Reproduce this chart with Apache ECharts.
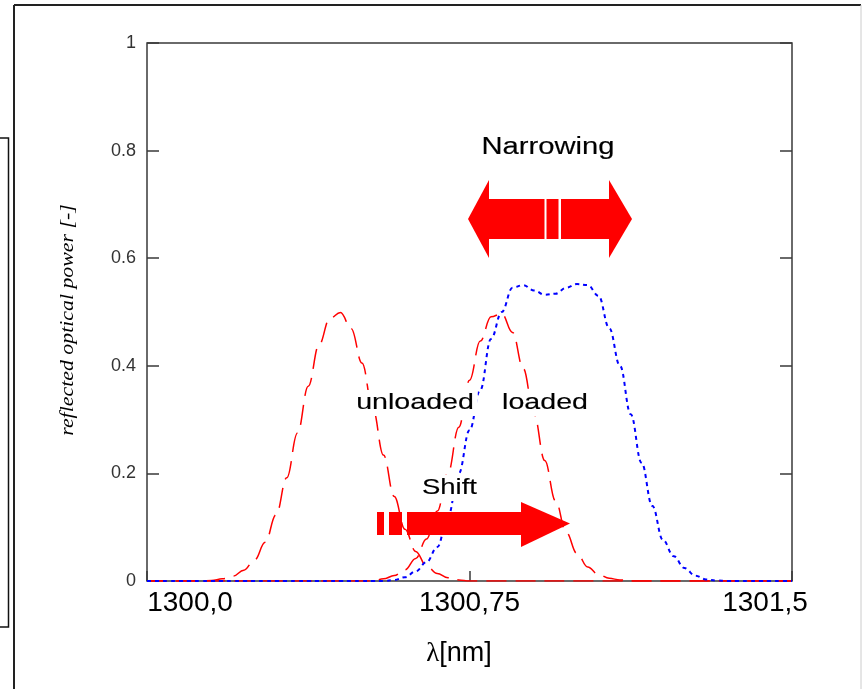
<!DOCTYPE html>
<html>
<head>
<meta charset="utf-8">
<script src="https://cdn.jsdelivr.net/npm/echarts@6/dist/echarts.min.js"></script>
<style>
  html, body { margin: 0; padding: 0; background: #fff; }
  #chart { width: 862px; height: 689px; }
</style>
</head>
<body>
<div id="chart"></div>
<script>
// wavelength grid [nm], every 0.025 nm
const wavelength = [
  1300.000, 1300.025, 1300.050, 1300.075, 1300.100, 1300.125, 1300.150, 1300.175, 1300.200, 1300.225,
  1300.250, 1300.275, 1300.300, 1300.325, 1300.350, 1300.375, 1300.400, 1300.425, 1300.450, 1300.475,
  1300.500, 1300.525, 1300.550, 1300.575, 1300.600, 1300.625, 1300.650, 1300.675, 1300.700, 1300.725,
  1300.750, 1300.775, 1300.800, 1300.825, 1300.850, 1300.875, 1300.900, 1300.925, 1300.950, 1300.975,
  1301.000, 1301.025, 1301.050, 1301.075, 1301.100, 1301.125, 1301.150, 1301.175, 1301.200, 1301.225,
  1301.250, 1301.275, 1301.300, 1301.325, 1301.350, 1301.375, 1301.400, 1301.425, 1301.450, 1301.475,
  1301.500
];

// red dashed, unloaded grating
const unloaded = [
  0, 0, 0, 0, 0, 0, 0.001, 0.004, 0.009, 0.020,
  0.039, 0.072, 0.123, 0.192, 0.275, 0.362, 0.439, 0.488, 0.499, 0.469,
  0.405, 0.321, 0.234, 0.157, 0.096, 0.055, 0.028, 0.014, 0.006, 0.002,
  0, 0, 0, 0, 0, 0, 0, 0, 0, 0,
  0, 0, 0, 0, 0, 0, 0, 0, 0, 0,
  0, 0, 0, 0, 0, 0, 0, 0, 0, 0,
  0
];

// red dashed, shifted peak
const shifted = [
  0, 0, 0, 0, 0, 0, 0, 0, 0, 0,
  0, 0, 0, 0, 0, 0, 0, 0, 0, 0,
  0, 0, 0.004, 0.010, 0.021, 0.042, 0.078, 0.130, 0.201, 0.286,
  0.373, 0.446, 0.491, 0.497, 0.462, 0.395, 0.310, 0.224, 0.149, 0.090,
  0.051, 0.026, 0.012, 0.005, 0.002, 0, 0, 0, 0, 0,
  0, 0, 0, 0, 0, 0, 0, 0, 0, 0,
  0
];

// blue dotted, loaded (broadened) spectrum
const loaded = [
  0, 0, 0, 0, 0, 0, 0, 0, 0, 0,
  0, 0, 0, 0, 0, 0, 0, 0, 0, 0,
  0, 0, 0, 0.002, 0.007, 0.018, 0.035, 0.063, 0.120, 0.200,
  0.280, 0.355, 0.450, 0.500, 0.545, 0.550, 0.540, 0.532, 0.534, 0.545,
  0.552, 0.550, 0.530, 0.470, 0.400, 0.310, 0.220, 0.140, 0.076, 0.046,
  0.024, 0.010, 0.003, 0.001, 0, 0, 0, 0, 0, 0,
  0
];

const xTickValues = [1300, 1300.75, 1301.5];
const xTickLabels = ['1300,0', '1300,75', '1301,5'];
const yTickLabels = ['0', '0.2', '0.4', '0.6', '0.8', '1'];

const SANS = '"Liberation Sans", Arial, sans-serif';
const SERIF = '"Liberation Serif", "Times New Roman", serif';
const RED = '#ff0000';

function pairs(values) {
  return wavelength.map(function (w, i) { return [w, values[i]]; });
}

function curve(name, values, color, dash, width) {
  return {
    name: name,
    type: 'line',
    data: pairs(values),
    showSymbol: false,
    smooth: 0.4,
    smoothMonotone: 'x',
    silent: true,
    z: 3,
    lineStyle: { color: color, width: width, type: dash }
  };
}

function label(text, x, y, size, sx) {
  return {
    type: 'text', x: x, y: y, scaleX: sx, z: 100,
    style: {
      text: text, fontSize: size, fontFamily: SANS, fill: '#000',
      stroke: '#000', lineWidth: 0.15,
      align: 'center', verticalAlign: 'middle',
      backgroundColor: '#fff', padding: [2, 3]
    }
  };
}

function block(x1, y1, x2, y2) {
  return { type: 'rect', z: 101, shape: { x: x1, y: y1, width: x2 - x1, height: y2 - y1 }, style: { fill: RED } };
}

function head(points) {
  return { type: 'polygon', z: 101, shape: { points: points }, style: { fill: RED } };
}

const chart = echarts.init(document.getElementById('chart'));

const option = {
  animation: false,
  backgroundColor: '#fff',
  grid: {
    left: 147, top: 43, right: 70, bottom: 108,
    show: true, borderColor: '#3a3a3a', borderWidth: 1.5
  },
  xAxis: {
    type: 'value',
    min: 1300, max: 1301.5,
    axisLine: { show: false },
    splitLine: { show: false },
    axisTick: {
      inside: true, length: 10, customValues: xTickValues,
      lineStyle: { color: '#3a3a3a', width: 1.5 }
    },
    axisLabel: {
      customValues: xTickValues,
      margin: 8,
      formatter: function (v) {
        const i = xTickValues.indexOf(v);
        const key = ['a', 'b', 'c'][i];
        return '{' + key + '|' + xTickLabels[i] + '}';
      },
      rich: {
        a: { fontSize: 28, fontFamily: SANS, color: '#000', padding: [0, 0, 0, 86] },
        b: { fontSize: 28, fontFamily: SANS, color: '#000' },
        c: { fontSize: 28, fontFamily: SANS, color: '#000', padding: [0, 54, 0, 0] }
      }
    },
    name: '{l|λ}{n|[nm]}',
    nameLocation: 'middle',
    nameGap: 59,
    nameTextStyle: {
      rich: {
        l: { fontSize: 27, fontFamily: SERIF, color: '#000' },
        n: { fontSize: 27, fontFamily: SANS, color: '#000', padding: [0, 21, 0, 0] }
      }
    }
  },
  yAxis: [{
    type: 'value',
    min: 0, max: 1, interval: 0.2,
    axisLine: { show: false },
    splitLine: { show: false },
    axisTick: { inside: true, length: 12, lineStyle: { color: '#3a3a3a', width: 1.5 } },
    axisLabel: {
      margin: 11,
      fontSize: 18, fontFamily: SANS, color: '#333',
      formatter: function (v) { return yTickLabels[Math.round(v * 5)]; }
    }
  }, {
    type: 'value',
    position: 'right',
    min: 0, max: 1, interval: 0.2,
    axisLine: { show: false },
    splitLine: { show: false },
    axisLabel: { show: false },
    axisTick: { inside: true, length: 12, lineStyle: { color: '#3a3a3a', width: 1.5 } }
  }],
  series: [
    curve('unloaded', unloaded, RED, [20, 9], 1.5),
    curve('shifted', shifted, RED, [20, 9], 1.5),
    curve('loaded', loaded, '#0000ff', [4, 4], 2)
  ],
  graphic: [
    // page frame
    { type: 'line', z: 90, shape: { x1: 14, y1: 5, x2: 861, y2: 5 }, style: { stroke: '#222', lineWidth: 2 } },
    { type: 'line', z: 90, shape: { x1: 14, y1: 5, x2: 14, y2: 689 }, style: { stroke: '#222', lineWidth: 2 } },
    { type: 'line', z: 90, shape: { x1: 861, y1: 5, x2: 861, y2: 689 }, style: { stroke: '#ccc', lineWidth: 1 } },
    { type: 'rect', z: 90, shape: { x: -4, y: 138, width: 12.5, height: 489 }, style: { fill: 'none', stroke: '#111', lineWidth: 1.5 } },

    // y axis title, stretched along its length like the original
    {
      type: 'text', x: 68, y: 320, rotation: Math.PI / 2, scaleX: 1.15, z: 100,
      style: {
        text: 'reflected optical power [-]', fontSize: 19, fontStyle: 'italic',
        fontFamily: SERIF, fill: '#000', align: 'center', verticalAlign: 'middle'
      }
    },

    // narrowing double arrow
    head([[468, 219], [489, 180], [489, 258]]),
    block(489, 199, 544.5, 239),
    block(546.5, 199, 558.5, 239),
    block(561, 199, 609, 239),
    head([[609, 180], [632, 219], [609, 258]]),

    // shift arrow
    block(377, 512, 384, 535),
    block(389, 512, 402, 535),
    block(407, 512, 521, 535),
    head([[521, 502], [570, 523.5], [521, 547]]),

    label('Narrowing', 548, 148, 23, 1.27),
    label('unloaded', 415, 403, 22, 1.3),
    label('loaded', 545, 403, 22, 1.3),
    label('Shift', 449.5, 488, 22, 1.25)
  ]
};

chart.setOption(option);
</script>
</body>
</html>
